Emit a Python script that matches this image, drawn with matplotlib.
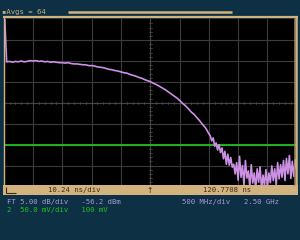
import matplotlib
matplotlib.use("Agg")
import matplotlib.pyplot as plt
from matplotlib.lines import Line2D
from matplotlib.patches import Rectangle

freq_ghz = [0.00, 0.05, 0.10, 0.15, 0.20, 0.25, 0.30, 0.35, 0.40, 0.45,
            0.50, 0.55, 0.60, 0.65, 0.70, 0.75, 0.80, 0.85, 0.90, 0.95,
            1.00, 1.05, 1.10, 1.15, 1.20, 1.25, 1.30, 1.35, 1.40, 1.45,
            1.50, 1.55, 1.60, 1.65, 1.70, 1.75, 1.80, 1.85, 1.90, 1.95,
            2.00, 2.05, 2.10, 2.15, 2.20, 2.25, 2.30, 2.35, 2.40, 2.45,
            2.50, 2.55, 2.60, 2.65, 2.70, 2.75, 2.80, 2.85, 2.90, 2.95,
            3.00, 3.05, 3.10, 3.15, 3.20, 3.25, 3.30, 3.35, 3.40, 3.45,
            3.50, 3.525, 3.55, 3.575, 3.60, 3.625, 3.65, 3.675, 3.70, 3.725,
            3.75, 3.775, 3.80, 3.825, 3.85, 3.875, 3.90, 3.925, 3.95, 3.975,
            4.00, 4.025, 4.05, 4.075, 4.10, 4.125, 4.15, 4.175, 4.20, 4.225,
            4.25, 4.275, 4.30, 4.325, 4.35, 4.375, 4.40, 4.425, 4.45, 4.475,
            4.50, 4.525, 4.55, 4.575, 4.60, 4.625, 4.65, 4.675, 4.70, 4.725,
            4.75, 4.775, 4.80, 4.825, 4.85, 4.875, 4.90, 4.925, 4.95, 4.975,
            5.00]
fft_dbm = [-30.0, -46.4, -46.3, -46.5, -46.3, -46.4, -46.2, -46.4, -46.3, -46.1,
           -46.2, -46.1, -46.3, -46.2, -46.4, -46.3, -46.5, -46.4, -46.5, -46.6,
           -46.6, -46.7, -46.6, -46.8, -46.9, -46.9, -47.0, -47.1, -47.1, -47.3,
           -47.3, -47.4, -47.6, -47.7, -47.8, -48.0, -48.2, -48.3, -48.5, -48.6,
           -48.8, -49.0, -49.1, -49.4, -49.6, -49.8, -50.1, -50.3, -50.6, -50.9,
           -51.1, -51.5, -51.8, -52.2, -52.6, -53.0, -53.5, -54.0, -54.5, -55.0,
           -55.6, -56.3, -56.9, -57.6, -58.4, -59.0, -59.8, -60.6, -61.5, -62.3,
           -63.6, -64.1, -65.3, -64.6, -66.6, -65.8, -67.5, -66.2, -68.1, -67.0,
           -69.6, -67.8, -70.9, -68.5, -71.1, -69.3, -71.6, -70.9, -73.2, -70.5,
           -74.7, -69.0, -74.0, -71.2, -75.8, -70.0, -74.2, -72.5, -76.3, -71.0,
           -75.4, -73.0, -76.8, -72.0, -75.2, -71.5, -77.0, -73.5, -76.0, -72.2,
           -76.5, -73.0, -75.3, -71.3, -74.8, -72.0, -75.8, -70.5, -74.4, -71.0,
           -74.0, -70.0, -74.8, -69.5, -73.2, -68.8, -74.3, -70.2, -73.8, -69.8,
           -72.2]
ch2_freq = [0.0, 5.0]
ch2_level = [-66.2, -66.2]

header_text = "\u25aaAvgs = 64"
timebase_text = "10.24 ns/div"
position_text = "120.7708 ns"
math_line_left = "FT 5.00 dB/div   -56.2 dBm"
math_line_right = "500 MHz/div"
center_freq_text = "2.50 GHz"
ch2_line = "2  50.0 mV/div   100 mV"

x_min, x_max, x_div = 0.0, 5.0, 0.5
y_top, db_div, n_ydiv = -36.2, 5.0, 8
y_bot = y_top - db_div * n_ydiv

# ---------------- figure ----------------
W, H = 300, 240
BG = "#0e3044"
TAN = "#d2b27e"
TRACE = "#cc90e4"
GREEN = "#1fc21f"
LAV = "#a898dc"
GRID = "#3c3c3c"

fig = plt.figure(figsize=(W / 100, H / 100), dpi=100, facecolor=BG)


def fx(x):
    return x / W


def fy(y):
    return 1 - y / H


ax = fig.add_axes([fx(3.7), fy(186.4), 293 / W, 167.2 / H])
ax.set_facecolor("black")
ax.set_xlim(x_min, x_max)
ax.set_ylim(y_bot, y_top)
for s in ax.spines.values():
    s.set_visible(False)
ax.set_xticks([])
ax.set_yticks([])

# graticule
k = 1
while x_min + k * x_div < x_max - 1e-9:
    ax.axvline(x_min + k * x_div, color=GRID, lw=0.8, zorder=1)
    k += 1
for k in range(1, n_ydiv):
    ax.axhline(y_top - k * db_div, color=GRID, lw=0.8, zorder=1)
xc = (x_min + x_max) / 2
yc = (y_top + y_bot) / 2
ax.axvline(xc, color="#444444", lw=0.8, zorder=1)
ax.axhline(yc, color="#444444", lw=0.8, zorder=1)
# minor ticks on centre lines
for i in range(1, 50):
    xv = x_min + i * x_div / 5
    ax.plot([xv, xv], [yc - 0.3, yc + 0.3], color="#4c4c4c", lw=0.5, zorder=1)
for i in range(1, 40):
    yv = y_bot + i * db_div / 5
    ax.plot([xc - 0.025, xc + 0.025], [yv, yv], color="#4c4c4c", lw=0.5, zorder=1)

# traces
ax.plot(ch2_freq, ch2_level, color=GREEN, lw=1.3, zorder=2)
ax.plot(freq_ghz, fft_dbm, color=TRACE, lw=1.2, zorder=3)

# frame
def fline(x0, y0, x1, y1, color, lw):
    fig.add_artist(Line2D([fx(x0), fx(x1)], [fy(y0), fy(y1)],
                          transform=fig.transFigure, color=color, lw=lw,
                          solid_capstyle="butt"))

fline(3, 17.3, 297.5, 17.3, TAN, 1.6)
fline(3.5, 17, 3.5, 186, TAN, 1.0)
fline(296.3, 17, 296.3, 186, TAN, 1.8)
fline(294.3, 18, 294.3, 186, "#8a7a5a", 0.6)
fline(68, 12, 232, 12, TAN, 1.8)

fig.add_artist(Rectangle((fx(3), fy(195)), 294.5 / W, 10 / H,
                         transform=fig.transFigure, facecolor=TAN,
                         edgecolor="none"))
# small trigger-point marker on the bar
fline(5.5, 186.5, 5.5, 192.5, "#3b2c1c", 0.8)
fline(5.5, 192.5, 16, 192.5, "#3b2c1c", 0.8)

mono = dict(family="DejaVu Sans Mono", fontsize=5.2)
fig.text(fx(2.5), fy(12), header_text, color="#c2ae86", va="center",
         ha="left", **mono)
fig.text(fx(48), fy(190), timebase_text, color="#3b2c1c", va="center",
         ha="left", **mono)
fig.text(fx(150), fy(190.5), "\u2191", color="#3b2c1c", va="center",
         ha="center", family="DejaVu Sans", fontsize=5.5)
fig.text(fx(203), fy(190), position_text, color="#3b2c1c", va="center",
         ha="left", **mono)
fig.text(fx(7), fy(202), math_line_left, color=LAV, va="center",
         ha="left", **mono)
fig.text(fx(182), fy(202), math_line_right, color=LAV, va="center",
         ha="left", **mono)
fig.text(fx(244), fy(202), center_freq_text, color=LAV, va="center",
         ha="left", **mono)
fig.text(fx(7), fy(210), ch2_line, color=GREEN, va="center",
         ha="left", **mono)

fig.savefig("out.png", dpi=100, facecolor=BG)
